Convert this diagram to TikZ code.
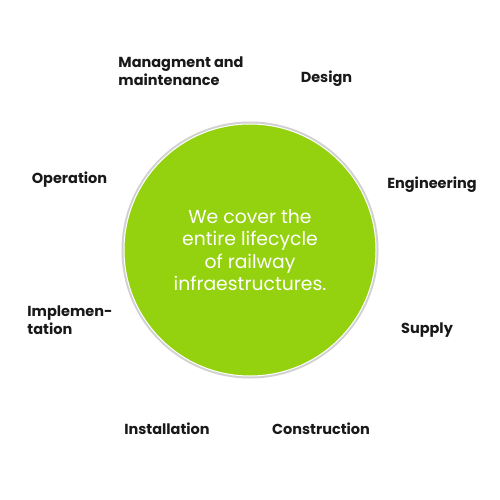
\documentclass[tikz,border=0pt]{standalone}
\usepackage{fontspec}
\setmainfont{Poppins}
\definecolor{railgreen}{HTML}{94D20F}
\begin{document}
\begin{tikzpicture}[x=1pt,y=-1pt,
  lbl/.style={font=\fontsize{14.5}{17.5}\selectfont\bfseries, text=black!90, align=left, inner sep=0pt},
  core/.style={circle, fill=railgreen, minimum size=252pt, inner sep=0pt, draw=white, line width=1pt},
  ring/.style={circle, fill=black!18, minimum size=257pt, inner sep=0pt}]
\useasboundingbox (0,0) rectangle (500,500);
\fill[white] (0,0) rectangle (500,500);
\node[ring] (shadow) at (250,250) {};
\node[core, align=center, text=white, font=\fontsize{18.8}{22.3}\selectfont] (hub) at (250,250)
  {We cover the\\entire lifecycle\\of railway\\infraestructures.};
\node[lbl] (mgmt) at (181,71) {Managment and\\maintenance};
\node[lbl] (design) at (326.5,79) {Design};
\node[lbl] (eng) at (432,184.5) {Engineering};
\node[lbl] (oper) at (69.5,180) {Operation};
\node[lbl] (impl) at (70,320) {Implemen-\\tation};
\node[lbl] (supply) at (427,330.5) {Supply};
\node[lbl] (inst) at (167,428.5) {Installation};
\node[lbl] (constr) at (321,429) {Construction};
\end{tikzpicture}
\end{document}
